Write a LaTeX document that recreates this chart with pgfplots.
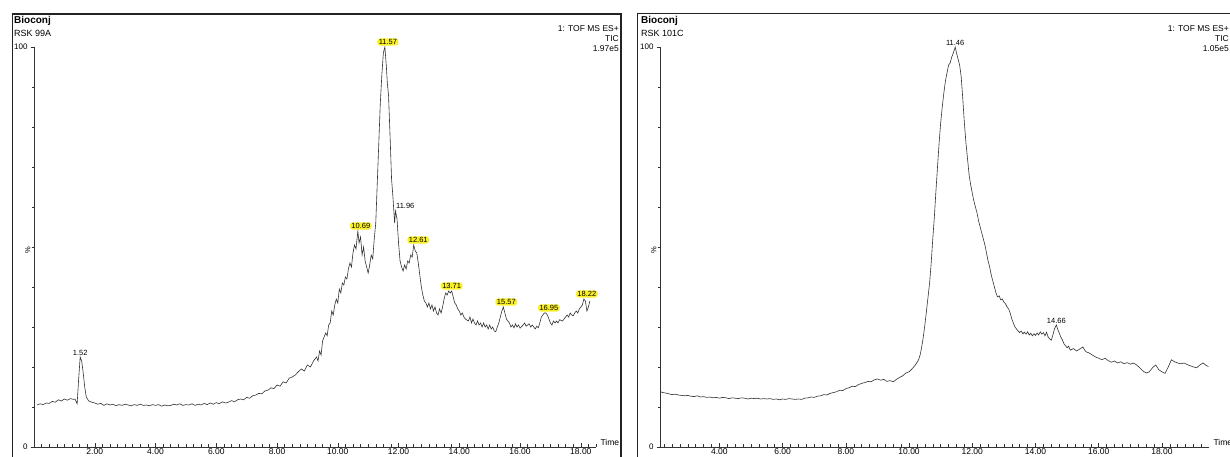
\documentclass[border=0pt]{standalone}
\usepackage{pgfplots}
\pgfplotsset{compat=1.18}
\usepackage{fontspec}
\setmainfont{Liberation Sans}
\definecolor{hl}{RGB}{250,240,40}
\definecolor{trace}{RGB}{50,50,50}
\definecolor{frame}{RGB}{35,35,35}

\pgfplotsset{
  chrom/.style={
    scale only axis, height=400pt, ymin=0, ymax=100,
    axis x line*=bottom, axis y line*=left,
    axis line style={-, line width=0.6pt, black!80},
    xtick align=inside, ytick align=outside,
    major tick length=3.5pt, minor tick length=2.5pt,
    every tick/.style={black!80, line width=0.5pt},
    ytick={0,100}, minor ytick={10,20,...,90},
    clip=false,
    /pgf/number format/assume math mode=true,
    tick label style={font=\fontsize{8.5}{9}\selectfont},
    xticklabel style={inner sep=0pt, anchor=north, yshift=-1.8pt, /pgf/number format/.cd, fixed, fixed zerofill, precision=2},
    yticklabel style={xshift=0.5pt, font=\fontsize{8}{9}\selectfont},
    xlabel={Time},
    every axis x label/.style={at={(axis description cs:1,0)}, anchor=base west, xshift=1pt, yshift=1.5pt, font=\fontsize{8.5}{9}\selectfont},
    ylabel={\%},
    every axis y label/.style={at={(axis description cs:0,0.5)}, rotate=90, anchor=south, xshift=-3pt, font=\fontsize{7.5}{8}\selectfont},
  },
}
\tikzset{
  pk/.style={anchor=south, inner sep=0.5pt, font=\fontsize{7.5}{8}\selectfont},
  hlpk/.style={anchor=south, fill=hl, rounded corners=3pt, inner xsep=1.5pt, inner ysep=1pt, xshift=3pt, font=\fontsize{7.5}{8}\selectfont},
}

\begin{document}
\begin{tikzpicture}[x=1pt,y=1pt]
\path[use as bounding box] (0pt,0pt) rectangle (1230pt,457pt);

% frames
\draw[line width=1.3pt, frame] (12.5pt,-5pt) -- (12.5pt,443pt) -- (621pt,443pt) -- (621pt,-5pt);
\draw[line width=0.9pt, frame] (637pt,-5pt) -- (637pt,444pt) -- (1245pt,444pt) -- (1245pt,-5pt);

% headers left
\node[anchor=west, inner sep=0, font=\bfseries\fontsize{10}{12}\selectfont] at (14pt,436pt) {Bioconj};
\node[anchor=west, inner sep=0, font=\fontsize{9}{10}\selectfont] at (14pt,424pt) {RSK 99A};
\node[anchor=east, inner sep=0, align=right, font=\fontsize{8.5}{10}\selectfont] at (619pt,418pt) {1: TOF MS ES+\\TIC\\1.97e5};
% headers right
\node[anchor=west, inner sep=0, font=\bfseries\fontsize{10}{12}\selectfont] at (641pt,436pt) {Bioconj};
\node[anchor=west, inner sep=0, font=\fontsize{9}{10}\selectfont] at (641pt,424pt) {RSK 101C};
\node[anchor=east, inner sep=0, align=right, font=\fontsize{8.5}{10}\selectfont] at (1229pt,418pt) {1: TOF MS ES+\\TIC\\1.05e5};

% ---------------- left chromatogram ----------------
\begin{axis}[chrom, at={(34pt,10pt)}, anchor=south west, width=562pt,
  xmin=0, xmax=18.5, xtick={2,4,...,18}, minor xtick={0,0.25,...,18.5}]
\addplot[trace, line width=0.6pt] table {
0.10 10.5
0.2 10.8
0.3 10.6
0.4 11.0
0.5 10.9
0.6 11.4
0.7 11.2
0.8 11.8
0.9 11.5
1.0 12.0
1.1 11.7
1.2 12.1
1.3 11.9
1.35 12.0
1.42 10.8
1.47 17.0
1.52 22.5
1.57 21.5
1.62 18.5
1.67 15.0
1.72 12.5
1.8 11.5
1.9 11.2
2.0 11.0
2.1 10.7
2.2 10.9
2.3 10.4
2.4 10.8
2.5 10.5
2.6 10.7
2.7 10.3
2.8 10.6
2.9 10.4
3.0 10.7
3.1 10.5
3.2 10.3
3.3 10.6
3.4 10.4
3.5 10.7
3.6 10.4
3.7 10.5
3.8 10.3
3.9 10.6
4.0 10.4
4.1 10.6
4.2 10.2
4.3 10.5
4.4 10.3
4.5 10.4
4.6 10.7
4.7 10.5
4.8 10.8
4.9 10.4
5.0 10.6
5.1 10.5
5.2 10.8
5.3 10.4
5.4 10.7
5.5 10.5
5.6 10.9
5.7 10.6
5.8 11.0
5.9 10.7
6.0 11.1
6.1 10.8
6.2 11.3
6.3 11.0
6.4 11.2
6.5 11.6
6.6 11.3
6.7 11.8
6.8 12.0
6.9 11.8
7.0 12.4
7.1 12.2
7.2 12.8
7.3 13.0
7.4 13.4
7.5 13.3
7.6 14.0
7.7 14.2
7.8 14.8
7.9 14.6
8.0 15.5
8.1 15.2
8.2 16.3
8.3 16.0
8.4 17.2
8.5 17.5
8.6 18.0
8.7 18.8
8.8 19.5
8.9 19.0
9.0 20.5
9.1 20.0
9.2 21.5
9.3 22.5
9.35 21.5
9.4 24.0
9.45 23.0
9.5 26.5
9.55 27.5
9.6 28.5
9.65 27.8
9.7 30.5
9.75 31.0
9.8 34.0
9.85 33.0
9.9 35.5
9.95 37.0
10.0 36.0
10.05 39.5
10.1 38.5
10.15 41.0
10.2 40.5
10.25 42.5
10.3 42.0
10.35 44.5
10.4 46.0
10.45 45.0
10.5 48.5
10.55 50.5
10.6 49.5
10.66 54.0
10.7 51.0
10.75 52.5
10.8 48.0
10.85 50.0
10.9 46.5
10.95 45.0
11.0 43.5
11.05 45.5
11.1 48.0
11.15 47.0
11.2 52.0
11.25 56.0
11.3 66.0
11.35 76.0
11.4 86.0
11.45 93.0
11.5 98.5
11.55 100
11.6 95.0
11.63 91.0
11.67 88.0
11.72 78.0
11.77 67.0
11.82 62.0
11.87 56.0
11.9 59.0
11.95 57.0
12.0 51.0
12.05 46.5
12.1 45.0
12.15 44.0
12.2 45.5
12.25 44.5
12.3 46.5
12.35 46.0
12.4 48.0
12.45 47.5
12.5 50.5
12.55 49.0
12.6 48.5
12.65 46.0
12.7 43.0
12.75 40.0
12.8 38.0
12.85 36.5
12.9 36.0
12.95 35.0
13.0 36.0
13.05 34.5
13.1 35.5
13.15 34.0
13.2 35.0
13.25 33.5
13.3 33.0
13.35 34.5
13.4 33.5
13.45 35.0
13.5 37.0
13.55 38.5
13.6 38.0
13.65 39.0
13.7 38.5
13.75 39.0
13.8 37.5
13.85 36.0
13.9 35.5
13.95 34.5
14.0 34.0
14.05 33.0
14.1 33.5
14.15 32.5
14.2 32.0
14.3 31.5
14.35 32.5
14.4 31.0
14.45 32.0
14.5 31.0
14.55 30.5
14.6 31.5
14.65 30.5
14.7 31.0
14.75 30.0
14.8 31.0
14.85 30.0
14.9 30.5
14.95 29.5
15.0 30.5
15.05 29.5
15.1 30.0
15.15 29.0
15.2 28.8
15.25 30.0
15.3 31.0
15.35 32.5
15.4 34.0
15.45 35.0
15.5 33.5
15.55 32.0
15.6 31.5
15.65 31.0
15.7 30.0
15.75 30.5
15.8 29.8
15.85 30.8
15.9 30.0
15.95 30.5
16.0 29.7
16.1 30.5
16.15 31.0
16.2 30.2
16.3 30.8
16.35 30.0
16.4 30.5
16.5 29.5
16.55 30.2
16.6 29.8
16.65 31.0
16.7 32.5
16.75 33.0
16.8 33.5
16.85 33.5
16.9 33.0
16.95 32.0
17.0 31.0
17.05 30.5
17.1 31.5
17.15 31.0
17.2 31.5
17.25 31.0
17.3 31.8
17.4 31.5
17.45 32.0
17.5 32.5
17.55 33.0
17.6 32.5
17.65 33.5
17.7 33.0
17.75 32.8
17.8 33.5
17.85 34.0
17.9 33.5
17.95 34.5
18.0 35.0
18.05 35.5
18.1 37.0
18.15 36.5
18.2 34.0
18.25 35.0
18.3 36.5
};
\node[pk] at (axis cs:1.52,22.8) {1.52};
\node[hlpk] at (axis cs:10.66,54.3) {10.69\hspace{5pt}};
\node[hlpk] at (axis cs:11.55,100.3) {11.57\hspace{5pt}};
\node[pk, anchor=south west] at (axis cs:11.9,59.5) {11.96};
\node[hlpk] at (axis cs:12.55,50.8) {12.61\hspace{5pt}};
\node[hlpk] at (axis cs:13.65,39.3) {13.71\hspace{6pt}};
\node[hlpk] at (axis cs:15.45,35.3) {15.57\hspace{8pt}};
\node[hlpk] at (axis cs:16.85,33.8) {16.95\hspace{7pt}};
\node[hlpk] at (axis cs:18.1,37.3) {18.22\hspace{7pt}};
\end{axis}

% ---------------- right chromatogram ----------------
\begin{axis}[chrom, at={(660pt,10pt)}, anchor=south west, width=549pt,
  xmin=2.12, xmax=19.49, xtick={4,6,...,18}, minor xtick={2.25,2.5,...,19.25}]
\addplot[trace, line width=0.6pt] table {
2.15 13.8
2.2 13.6
2.3 13.5
2.4 13.3
2.5 13.1
2.6 13.2
2.7 13.0
2.8 12.9
2.9 12.8
3.0 12.9
3.1 12.7
3.2 12.6
3.3 12.8
3.4 12.5
3.5 12.6
3.6 12.4
3.7 12.5
3.8 12.3
3.9 12.4
4.0 12.2
4.1 12.4
4.2 12.3
4.3 12.1
4.4 12.3
4.5 12.2
4.6 12.1
4.7 12.3
4.8 12.2
4.9 12.0
5.0 12.2
5.1 12.1
5.2 12.2
5.3 12.0
5.4 12.1
5.5 12.0
5.6 12.1
5.7 11.9
5.8 12.0
5.9 11.8
6.0 12.0
6.1 11.9
6.2 12.1
6.3 12.0
6.4 11.9
6.5 12.0
6.6 11.9
6.7 12.2
6.8 12.3
6.9 12.5
7.0 12.4
7.1 12.7
7.2 12.8
7.3 13.1
7.4 13.0
7.5 13.4
7.6 13.6
7.7 13.8
7.8 14.2
7.9 14.1
8.0 14.6
8.1 14.8
8.2 15.2
8.3 15.1
8.4 15.6
8.5 15.9
8.6 16.1
8.7 16.4
8.8 16.3
8.9 16.8
9.0 17.0
9.1 16.7
9.2 16.9
9.3 16.4
9.4 16.6
9.5 16.3
9.6 16.9
9.7 17.4
9.8 17.8
9.9 18.5
10.0 18.8
10.1 19.6
10.2 20.5
10.3 21.8
10.35 23.0
10.4 25.0
10.45 27.5
10.5 30.5
10.55 34.0
10.6 37.5
10.65 41.0
10.7 46.0
10.75 52.0
10.8 57.5
10.85 64.0
10.9 70.0
10.95 76.0
11.0 81.0
11.05 85.0
11.1 88.5
11.15 91.5
11.2 93.5
11.25 95.5
11.3 96.0
11.35 97.5
11.4 98.5
11.46 100
11.5 98.5
11.55 97.0
11.6 95.5
11.65 92.5
11.7 87.0
11.75 81.0
11.8 76.0
11.85 72.0
11.9 68.0
11.95 65.5
12.0 63.5
12.05 61.5
12.1 60.0
12.15 58.5
12.2 56.5
12.25 55.0
12.3 53.5
12.35 52.0
12.4 50.5
12.45 48.5
12.5 46.5
12.55 45.0
12.6 43.0
12.65 41.5
12.7 40.0
12.75 38.5
12.8 37.5
12.85 37.8
12.9 36.8
12.95 37.0
13.0 36.2
13.05 35.8
13.1 35.0
13.15 34.5
13.2 33.5
13.25 32.0
13.3 31.0
13.35 30.0
13.4 29.5
13.45 29.0
13.5 28.6
13.55 29.0
13.6 28.3
13.65 28.7
13.7 28.2
13.75 28.8
13.8 28.0
13.85 28.4
13.9 27.8
13.95 28.3
14.0 27.9
14.05 28.5
14.1 28.0
14.15 28.8
14.2 28.2
14.25 28.6
14.3 27.8
14.35 28.7
14.4 27.5
14.45 27.0
14.5 26.7
14.55 28.0
14.6 29.5
14.66 30.5
14.7 29.5
14.75 28.5
14.8 27.5
14.85 26.8
14.9 25.8
14.95 25.3
15.0 24.8
15.05 25.2
15.1 24.2
15.2 24.6
15.3 24.0
15.4 24.5
15.5 25.0
15.55 24.3
15.6 23.8
15.7 23.5
15.8 23.0
15.9 22.5
16.0 22.2
16.1 21.8
16.2 22.2
16.3 21.6
16.4 21.2
16.5 21.5
16.6 21.0
16.7 21.3
16.8 20.8
16.9 21.1
17.0 20.7
17.1 21.0
17.2 20.5
17.3 19.8
17.4 19.0
17.5 18.5
17.6 18.8
17.7 19.8
17.8 20.5
17.85 20.0
17.9 19.3
18.0 18.8
18.1 18.4
18.2 20.0
18.3 21.8
18.4 21.3
18.5 21.0
18.6 20.8
18.7 21.0
18.8 20.6
18.9 20.3
19.0 20.0
19.1 19.8
19.2 20.5
19.3 21.0
19.4 20.4
19.47 20.1
};
\node[pk] at (axis cs:11.46,100.3) {11.46};
\node[pk] at (axis cs:14.66,30.8) {14.66};
\end{axis}
\end{tikzpicture}
\end{document}
